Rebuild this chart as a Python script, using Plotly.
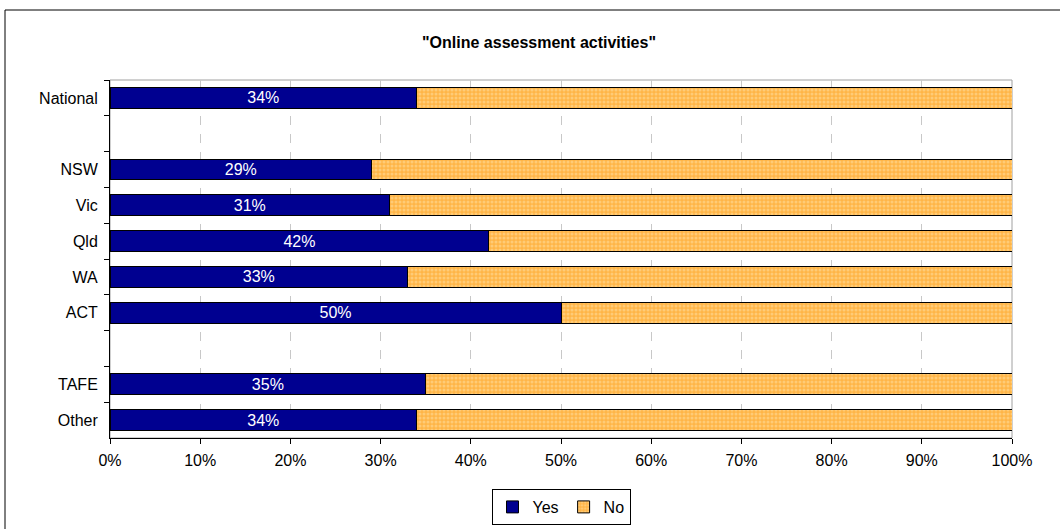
import plotly.graph_objects as go

categories = ["National", " ", "NSW", "Vic", "Qld", "WA", "ACT", "  ", "TAFE", "Other"]
yes_values = [34, None, 29, 31, 42, 33, 50, None, 35, 34]
no_values = [66, None, 71, 69, 58, 67, 50, None, 65, 66]
x_ticks = [0, 10, 20, 30, 40, 50, 60, 70, 80, 90, 100]
x_tick_labels = [f"{v}%" for v in x_ticks]

FONT = "Liberation Sans, Arial, sans-serif"

fig = go.Figure()
fig.add_trace(go.Bar(
    y=categories, x=yes_values, name="Yes", orientation="h",
    marker=dict(color="#000090", line=dict(color="#000000", width=1)),
    text=[f"{v}%" if v is not None else "" for v in yes_values],
    textposition="inside", insidetextanchor="middle", textangle=0,
    textfont=dict(color="white", size=16, family=FONT),
    hoverinfo="skip",
))
fig.add_trace(go.Bar(
    y=categories, x=no_values, name="No", orientation="h",
    marker=dict(color="#FFB547", line=dict(color="#000000", width=1),
                pattern=dict(shape=".", fgcolor="#FFE2A8", bgcolor="#FFB547", size=4, solidity=0.45)),
    hoverinfo="skip",
))

L, R, T, B = 110, 48, 80, 91
W, H = 1060, 529
pw = W - L - R
ph = H - T - B

def px_x(p):
    return (p - L) / pw

def px_y(p):
    return (H - B - p) / ph

fig.update_layout(
    width=W, height=H,
    margin=dict(l=L, r=R, t=T, b=B, autoexpand=False),
    paper_bgcolor="white", plot_bgcolor="white",
    barmode="stack", bargap=0.42,
    uniformtext=dict(minsize=16, mode="show"),
    font=dict(family=FONT, size=16, color="#000000"),
    title=dict(text='<b>"Online assessment activities"</b>', x=539 / W, xref="container",
               xanchor="center", y=1 - 42 / H, yanchor="middle", font=dict(size=16, family=FONT)),
    xaxis=dict(range=[0, 100], tickvals=x_ticks, ticktext=x_tick_labels,
               showgrid=True, gridcolor="#C8C8C8", griddash="dash", gridwidth=1,
               showline=True, linecolor="#000000", linewidth=1,
               ticks="outside", ticklen=5, tickcolor="#000000", zeroline=False,
               ticklabelstandoff=3, tickfont=dict(size=16)),
    yaxis=dict(categoryorder="array", categoryarray=categories, autorange="reversed",
               showline=True, linecolor="#000000", linewidth=1,
               ticks="outside", ticklen=5, tickcolor="#000000", tickson="boundaries",
               ticklabelstandoff=8, showgrid=False, tickfont=dict(size=16)),
    legend=dict(orientation="h", x=0.5, xanchor="center", y=px_y(507), yanchor="middle",
                bordercolor="#000000", borderwidth=1, bgcolor="white",
                font=dict(size=16), itemwidth=30, traceorder="normal",
                tracegroupgap=0),
    showlegend=True,
    shapes=[
        dict(type="rect", xref="paper", yref="paper", x0=0, x1=1, y0=0, y1=1,
             line=dict(color="#A0A0A0", width=1), layer="below"),
        dict(type="rect", xref="paper", yref="paper",
             x0=px_x(5), x1=px_x(1061), y0=px_y(531), y1=px_y(10),
             line=dict(color="#000000", width=1), layer="below"),
    ],
)

fig.write_html("out.html", config={"displayModeBar": False},
               post_script="document.body.style.margin='0';document.body.style.overflow='hidden';")
